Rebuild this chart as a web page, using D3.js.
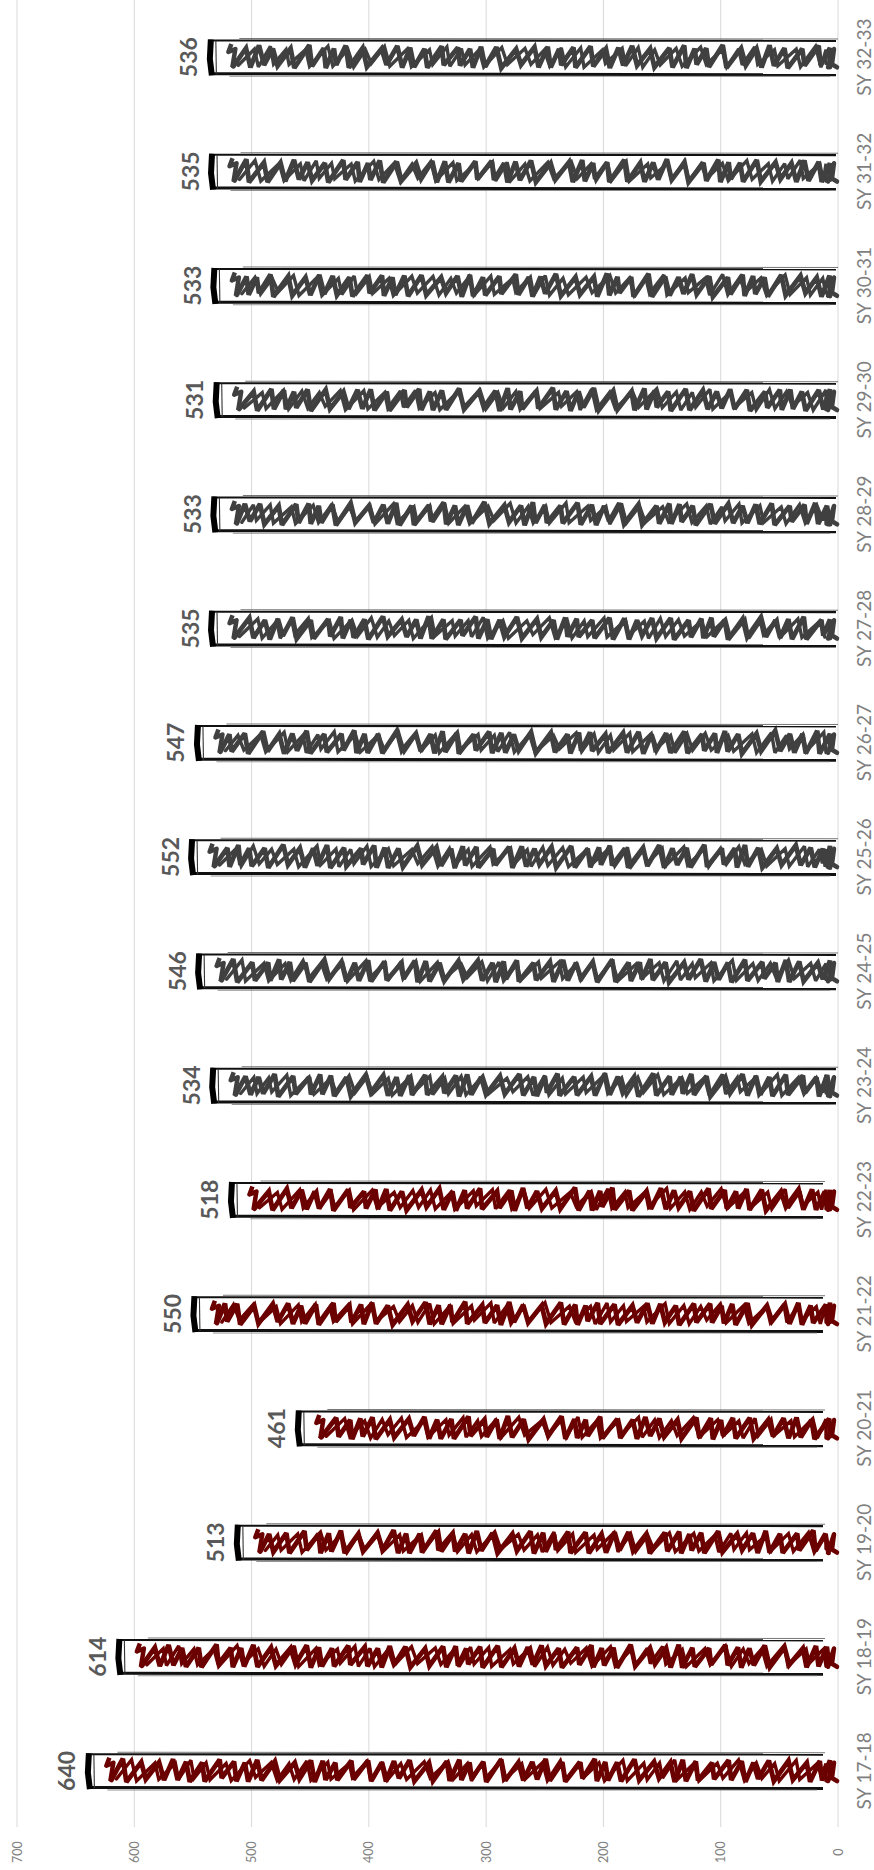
<!DOCTYPE html>
<html>
<head>
<meta charset="utf-8">
<script src="https://cdn.jsdelivr.net/npm/d3@7/dist/d3.min.js"></script>
<style>
  html, body { margin: 0; padding: 0; background: #ffffff; }
  svg { display: block; }
</style>
</head>
<body>
<script>
// ---- data ----
const categories = ["SY 17-18","SY 18-19","SY 19-20","SY 20-21","SY 21-22","SY 22-23",
  "SY 23-24","SY 24-25","SY 25-26","SY 26-27","SY 27-28","SY 28-29","SY 29-30",
  "SY 30-31","SY 31-32","SY 32-33"];
const values = [640, 614, 513, 461, 550, 518, 534, 546, 552, 547, 535, 533, 531, 533, 535, 536];
const kinds = ["actual","actual","actual","actual","actual","actual",
  "projected","projected","projected","projected","projected","projected","projected",
  "projected","projected","projected"];
const valueTicks = [0, 100, 200, 300, 400, 500, 600, 700];

const W = 874, H = 1870;
const colorByKind = { actual: "#6b0000", projected: "#404040" };

const svg = d3.select("body").append("svg").attr("width", W).attr("height", H);

const x = d3.scaleLinear().domain([0, 700]).range([838, 17]);
const y = d3.scaleBand().domain(categories.slice().reverse())
  .range([0, 1828]).paddingInner(0.7).paddingOuter(0.35);

// gridlines
svg.append("g").selectAll("line").data(valueTicks).join("line")
  .attr("x1", d => x(d)).attr("x2", d => x(d))
  .attr("y1", 0).attr("y2", 1827)
  .attr("stroke", "#d9d9d9").attr("stroke-width", 1);

// value tick labels
svg.append("g").selectAll("text").data(valueTicks).join("text")
  .attr("transform", d => `translate(${x(d)},1852) rotate(-90)`)
  .attr("text-anchor", "middle").attr("dominant-baseline", "central")
  .attr("font-family", "Lato, 'Open Sans', sans-serif").attr("font-size", 12.5)
  .attr("fill", "#7f7f7f").text(d => d);

// category labels
svg.append("g").selectAll("text").data(categories).join("text")
  .attr("transform", d => `translate(863,${y(d) + y.bandwidth() / 2}) rotate(-90)`)
  .attr("text-anchor", "middle").attr("dominant-baseline", "central")
  .attr("font-family", "Lato, 'Open Sans', sans-serif").attr("font-size", 19)
  .attr("fill", "#7f7f7f").text(d => d);

const line = d3.line();
const rows = categories.map((c, i) => ({ c, v: values[i], k: kinds[i], i }));

function zigzag(xs, xe, yt, yb, seed, up, down) {
  const pts = [];
  let px = xs, i = 0;
  pts.push([px, yb - 2]);
  while (px < xe) {
    const j1 = Math.sin(i * 1.31 + seed * 2.7);
    const j2 = Math.sin(i * 0.77 + seed * 1.3);
    const j3 = Math.sin(i * 2.13 + seed * 0.9);
    const u = up + 3.5 * j1;
    const dn = down + 1.5 * j2;
    px += u;
    pts.push([Math.min(px, xe + 2), yt + Math.abs(j3) * 4]);
    px += dn;
    pts.push([Math.min(px, xe + 2), yb - Math.abs(j1 * j2) * 4]);
    i++;
  }
  return pts;
}

const bars = svg.append("g").selectAll("g").data(rows).join("g");

bars.each(function(d) {
  const g = d3.select(this);
  const y0 = y(d.c), bw = y.bandwidth(), y1 = y0 + bw;
  const xl = x(d.v), x0 = x(0);
  const col = colorByKind[d.k];
  // white fill
  g.append("rect").attr("x", xl).attr("y", y0).attr("width", x0 - 2 - xl)
    .attr("height", bw).attr("fill", "#fff");
  const yt = y0 + 5, yb = y1 - 6;
  const xs = xl + 24, xe = x0 - 10;
  // starting hook
  g.append("path").attr("d", line([[xs - 2, yt - 1], [xs - 5, yt + 7], [xs + 2, yt + 4], [xs - 1, yb - 1]]))
    .attr("fill", "none").attr("stroke", col).attr("stroke-width", 4.5)
    .attr("stroke-linejoin", "round");
  // zigzag hachure passes
  g.append("path").attr("d", line(zigzag(xs, xe, yt, yb, d.i, 11.5, 3.5)))
    .attr("fill", "none").attr("stroke", col).attr("stroke-width", 4.8)
    .attr("stroke-linejoin", "miter").attr("stroke-miterlimit", 2.5)
    .attr("stroke-linecap", "round");
  g.append("path").attr("d", line(zigzag(xs + 5, xe - 4, yt + 1, yb - 1, d.i + 7, 15, 4.5)))
    .attr("fill", "none").attr("stroke", col).attr("stroke-width", 3.4)
    .attr("stroke-linejoin", "miter").attr("stroke-miterlimit", 2.5)
    .attr("stroke-linecap", "round");
  // end flourish
  g.append("path").attr("d", line([[xe, yb - 1], [x0 - 4, yt + 4], [x0 - 6, yb - 4], [x0 - 1, yb - 1]]))
    .attr("fill", "none").attr("stroke", col).attr("stroke-width", 4.5)
    .attr("stroke-linejoin", "round").attr("stroke-linecap", "round");
  // outline: top and bottom sketchy strokes
  const endX = d.k === "actual" ? x0 - 15 : x0 - 2;
  g.append("line").attr("x1", xl).attr("x2", endX).attr("y1", y0 + 0.5).attr("y2", y0 + 0.8)
    .attr("stroke", "#111").attr("stroke-width", 2.2);
  g.append("line").attr("x1", xl + 30).attr("x2", endX + 2).attr("y1", y0 - 1.5).attr("y2", y0 - 1)
    .attr("stroke", "#666").attr("stroke-width", 0.9);
  g.append("line").attr("x1", xl + 2).attr("x2", endX).attr("y1", y1 - 0.5).attr("y2", y1 + 0.5)
    .attr("stroke", "#111").attr("stroke-width", 3);
  g.append("line").attr("x1", xl + 20).attr("x2", endX - 6).attr("y1", y1 + 2).attr("y2", y1 + 2)
    .attr("stroke", "#777").attr("stroke-width", 0.8);
  // left end cap
  g.append("path")
    .attr("d", `M${xl + 1.5},${y0 - 0.5} L${xl + 0.5},${y0 + bw * 0.55} L${xl + 2.5},${y1 + 1}`)
    .attr("fill", "none").attr("stroke", "#000").attr("stroke-width", 6);
  g.append("line").attr("x1", xl + 6.5).attr("x2", xl + 7).attr("y1", y0 + 1).attr("y2", y1)
    .attr("stroke", "#333").attr("stroke-width", 1.1);
  // data label
  g.append("text")
    .attr("transform", `translate(${xl - 21},${y0 + bw / 2}) rotate(-90)`)
    .attr("text-anchor", "middle").attr("dominant-baseline", "central")
    .attr("font-family", "Lato, 'Open Sans', sans-serif").attr("font-weight", 700)
    .attr("font-size", 23).attr("fill", "#595959").text(d.v);
});
</script>
</body>
</html>
